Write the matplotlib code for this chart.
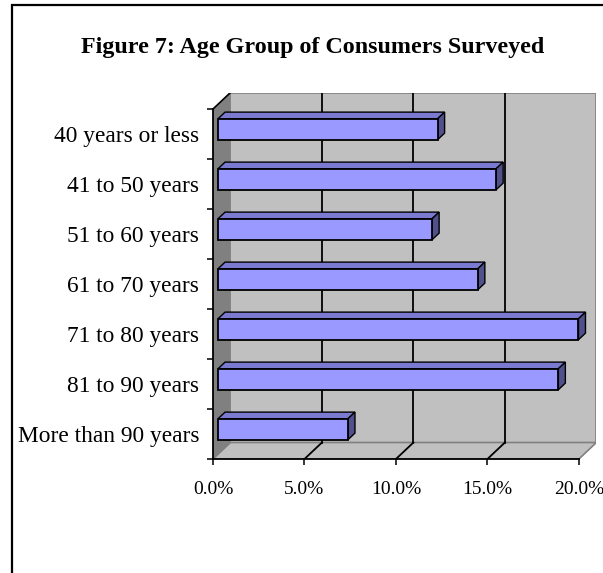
import matplotlib.pyplot as plt
from matplotlib.patches import Polygon, Rectangle
from matplotlib.ticker import FuncFormatter
import numpy as np

# age groups, top of the chart first
categories = ['40 years or less', '41 to 50 years', '51 to 60 years',
              '61 to 70 years', '71 to 80 years', '81 to 90 years',
              'More than 90 years']
share = [12.0, 15.2, 11.7, 14.2, 19.7, 18.6, 7.1]  # percent of consumers
xticks = [0, 5, 10, 15, 20]
title = 'Figure 7: Age Group of Consumers Surveyed'

plt.rcParams['font.family'] = ['Liberation Serif', 'DejaVu Serif']

# oblique depth offset of the 3-D box (data units)
dx, dy = 0.956, 0.33
front, back = 0.29, 0.69   # depth of bar front / back faces
h = 0.42                   # bar thickness

n = len(categories)
yc = np.arange(n)[::-1] + 0.5
xmax = xticks[-1]

fig = plt.figure(figsize=(6.03, 5.73), dpi=100)
ax = fig.add_axes([213 / 603, 114 / 573, 383.4 / 603, 366.5 / 573])
ax.set_xlim(0, xmax + dx)
ax.set_ylim(0, n + dy)

# walls and floor
ax.add_patch(Rectangle((dx, dy), xmax, n, facecolor='#C0C0C0',
                       edgecolor='#808080', lw=1.2, zorder=1))
ax.add_patch(Polygon([(0, 0), (dx, dy), (dx, n + dy), (0, n)],
                     facecolor='#808080', edgecolor='none', zorder=2))
ax.add_patch(Polygon([(0, 0), (xmax, 0), (xmax + dx, dy), (dx, dy)],
                     facecolor='#C0C0C0', edgecolor='#808080', lw=1.2, zorder=2))
ax.plot([0, dx], [n, n + dy], color='black', lw=1.2, zorder=3)

# gridlines on back wall and floor
for k in xticks[1:-1]:
    ax.plot([k + dx, k + dx], [dy, n + dy], color='black', lw=1.3, zorder=3)
    ax.plot([k, k + dx], [0, dy], color='black', lw=1.3, zorder=3)

# bars: front face, top face, end face
x0f, x0b = front * dx, back * dx
ax.barh(yc + front * dy, share, height=h, left=x0f,
        color='#9999FF', edgecolor='black', lw=1.3, zorder=5)
for y, v in zip(yc, share):
    tf = y + h / 2 + front * dy
    tb = y + h / 2 + back * dy
    bf = y - h / 2 + front * dy
    bb = y - h / 2 + back * dy
    ax.add_patch(Polygon([(x0f, tf), (x0f + v, tf), (x0b + v, tb), (x0b, tb)],
                         facecolor='#7A7AD0', edgecolor='black', lw=1.0, zorder=4))
    ax.add_patch(Polygon([(x0f + v, bf), (x0f + v, tf), (x0b + v, tb), (x0b + v, bb)],
                         facecolor='#50508C', edgecolor='black', lw=1.0, zorder=4))

# axes
for s in ['top', 'right']:
    ax.spines[s].set_visible(False)
ax.spines['bottom'].set_bounds(0, xmax)
ax.spines['left'].set_bounds(0, n)
for s in ['bottom', 'left']:
    ax.spines[s].set_linewidth(1.3)
    ax.spines[s].set_zorder(6)

ax.set_xticks(xticks)
ax.xaxis.set_major_formatter(FuncFormatter(lambda v, p: f'{v:.1f}%'))
ax.tick_params(axis='x', length=4.3, width=1.1, pad=11.5, labelsize=14)

ax.set_yticks(np.arange(n + 1))
ax.set_yticklabels([])
ax.set_yticks(yc, minor=True)
ax.set_yticklabels(categories, minor=True)
ax.tick_params(axis='y', which='major', length=4.3, width=1.1)
ax.tick_params(axis='y', which='minor', length=0, pad=10, labelsize=16.8)

fig.text(313 / 603, 1 - 47 / 573, title, ha='center', va='center',
         fontsize=17.3, fontweight='bold')

# outer chart border
fig.patches.append(Rectangle((12 / 603, -0.1), 1.2, 1.1 - 5 / 573,
                             transform=fig.transFigure, fill=False,
                             edgecolor='black', lw=1.6))

fig.savefig('out.png', dpi=100)
